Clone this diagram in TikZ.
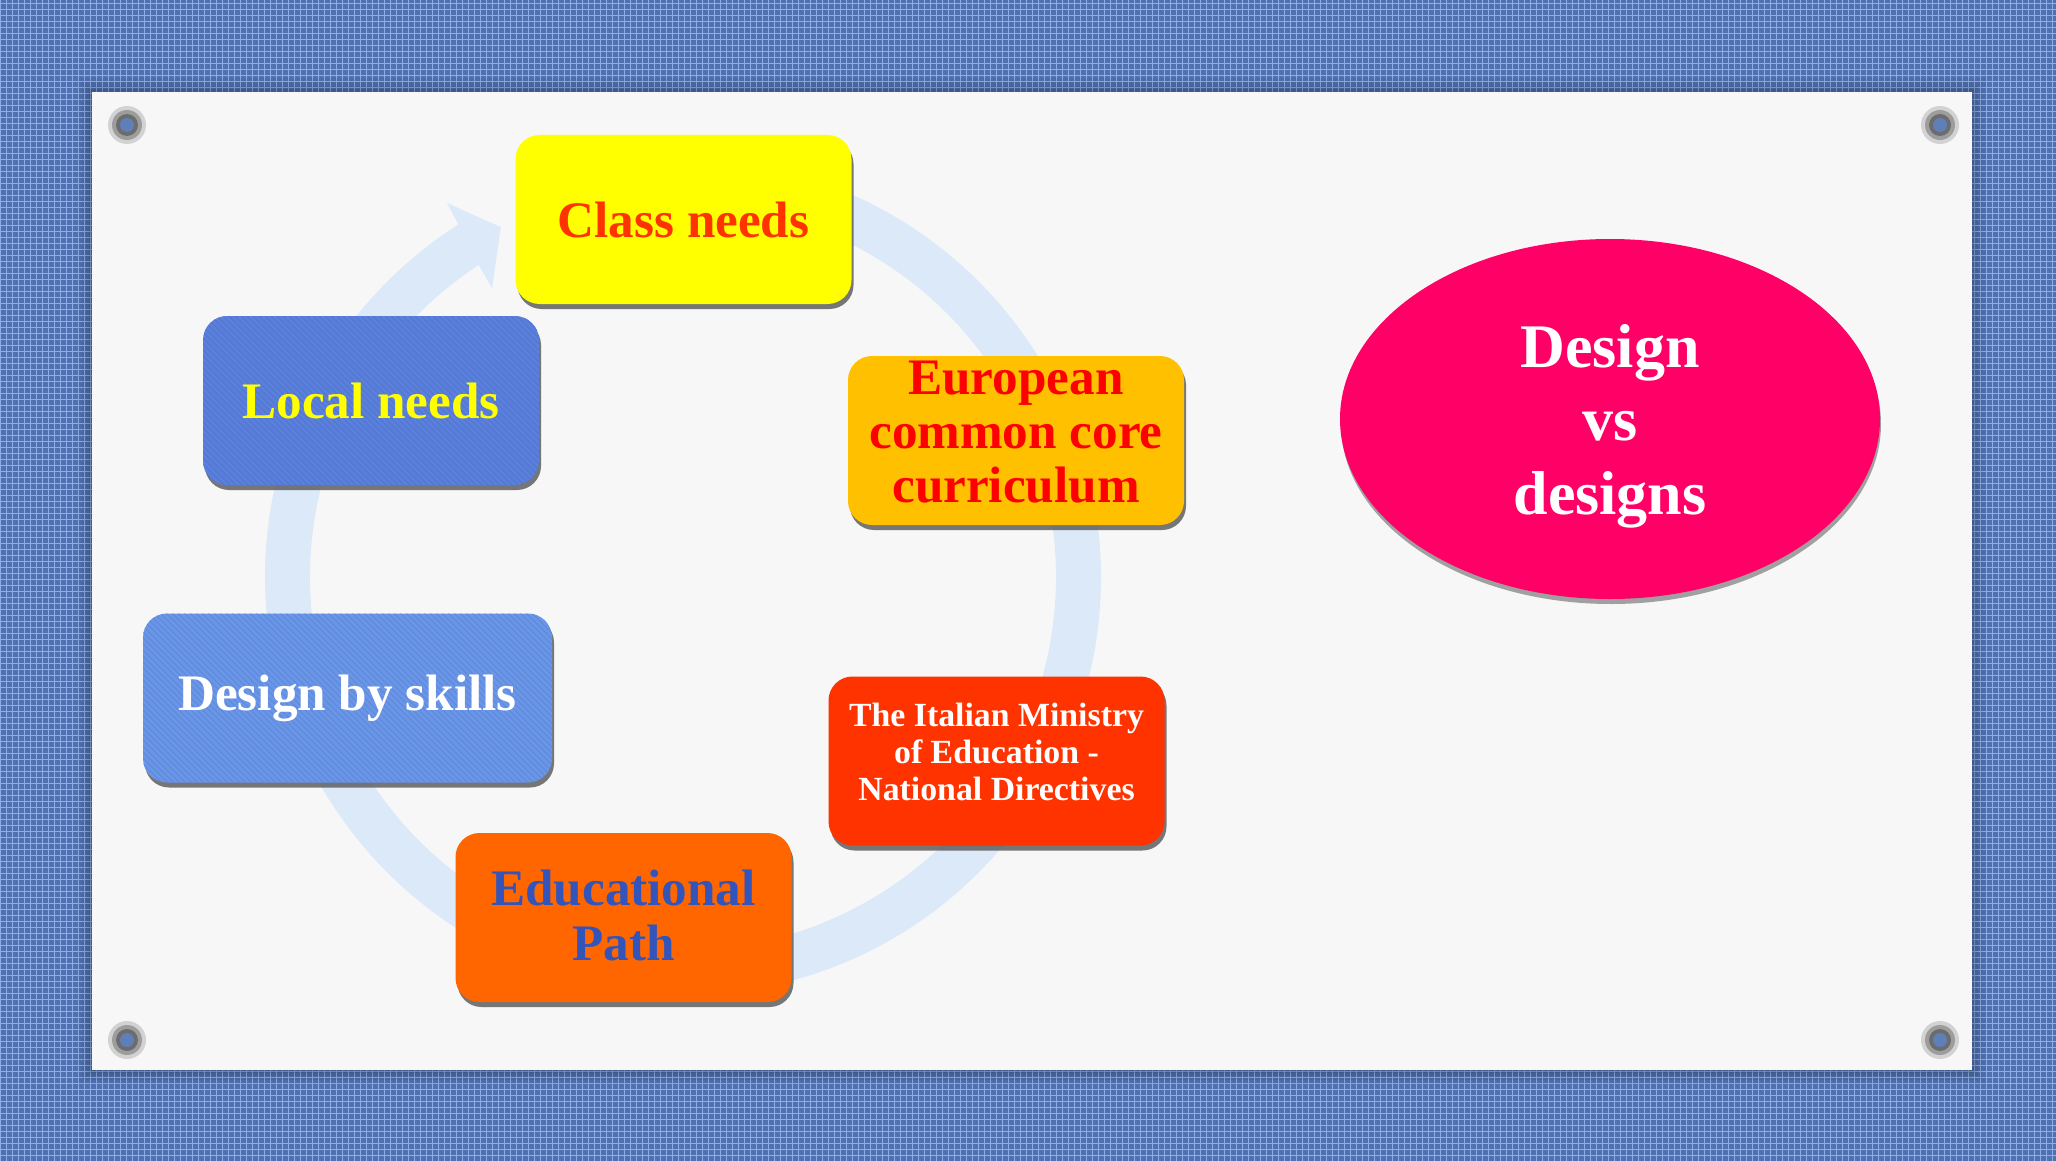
\documentclass[tikz,border=0pt]{standalone}
\usepackage{fontspec}
\setmainfont{Liberation Serif}
\usetikzlibrary{shadows,shapes.geometric,patterns}
\definecolor{fabric}{HTML}{5070B0}
\definecolor{fabriclight}{HTML}{8DAEE6}
\definecolor{panelc}{HTML}{F7F7F7}
\definecolor{bandc}{HTML}{DCE9F8}
\definecolor{yellowc}{HTML}{FFFF00}
\definecolor{classtxt}{HTML}{FF3300}
\definecolor{euroc}{HTML}{FFC000}
\definecolor{redtxt}{HTML}{FF0000}
\definecolor{italc}{HTML}{FF3300}
\definecolor{educ}{HTML}{FF6600}
\definecolor{edutxt}{HTML}{3355BB}
\definecolor{skillc}{HTML}{6A96E8}
\definecolor{skillstripe}{HTML}{5E88DA}
\definecolor{localc}{HTML}{5B80DC}
\definecolor{localstripe}{HTML}{5274CE}
\definecolor{pinkc}{HTML}{FF0066}
\definecolor{pinc}{HTML}{5F7FB8}
\tikzset{
  cbox/.style={rounded corners=12pt, minimum width=168pt, minimum height=84.5pt,
    inner sep=0pt, align=center,
    drop shadow={shadow xshift=1pt, shadow yshift=-2.5pt, opacity=0.75, fill=black!70}},
  bigtxt/.style={font=\fontsize{25.6}{27.2}\selectfont\bfseries, align=center},
  smalltxt/.style={font=\fontsize{16.9}{18.4}\selectfont\bfseries, align=center},
  ovaltxt/.style={font=\fontsize{31}{36.7}\selectfont\bfseries, align=center},
}
\begin{document}
\begin{tikzpicture}[x=0.5pt,y=-0.5pt]
\useasboundingbox (0,0) rectangle (2056,1161);
% fabric background
\fill[fabric] (0,0) rectangle (2056,1161);
\fill[pattern=grid, pattern color=fabriclight] (0,0) rectangle (2056,1161);
% panel with soft edge
\foreach \d/\o in {14/0.04,10/0.05,6/0.06,3/0.07}
  \fill[black,opacity=\o] ({92-\d},{92-\d}) rectangle ({1972+\d},{1070+\d});
\fill[panelc] (92,92) rectangle (1972,1070);
% pins
\foreach \px/\py in {127/125,1940/125,127/1040,1940/1040}{
  \fill[black,opacity=0.15] (\px,\py) circle[radius=19];
  \fill[black,opacity=0.25] (\px,\py) circle[radius=15];
  \fill[black!70,opacity=0.6] (\px,\py) circle[radius=11];
  \fill[pinc] (\px,\py) circle[radius=7];
}
% circular arrow band
\begin{scope}[shift={(683,577)}, y=0.5pt]
  \fill[bandc] (95:418) arc[start angle=95, end angle=-237.5, radius=418]
    -- (-237.75:442) -- (-242.5:394.5) -- (-236.5:346) -- (-236.8:373)
    arc[start angle=-236.8, end angle=95, radius=373] -- cycle;
\end{scope}
% boxes
\node[cbox, fill=yellowc] (class) at (683.5,219.5) {};
\node[bigtxt, text=classtxt] (classtxt) at (class.center) {Class needs};
\node[cbox, fill=euroc] (euro) at (1016,440.5) {};
\node[bigtxt, text=redtxt] (eurotxt) at (1016,432) {European\\common core\\curriculum};
\node[cbox, fill=italc] (ital) at (996.5,761) {};
\node[smalltxt, text=white] (italtxt) at (996.5,752) {The Italian Ministry\\of Education -\\National Directives};
\node[cbox, fill=educ] (edu) at (623.5,917.5) {};
\node[bigtxt, text=edutxt] (edutxt) at (623.5,915.5) {Educational\\Path};
\node[cbox, minimum width=204.5pt, fill=skillc,
  postaction={pattern=north west lines, pattern color=skillstripe}] (skills) at (347.5,698) {};
\node[bigtxt, text=white] (skillstxt) at (skills.center) {Design by skills};
\node[cbox, fill=localc,
  postaction={pattern=north west lines, pattern color=localstripe}] (local) at (371,400.5) {};
\node[bigtxt, text=yellowc] (localtxt) at (local.center) {Local needs};
% oval
\node[ellipse, minimum width=270pt, minimum height=180pt, inner sep=0pt, fill=pinkc,
  drop shadow={shadow xshift=0.5pt, shadow yshift=-2.5pt, opacity=0.6, fill=black!60}] (oval) at (1610,419) {};
\node[ovaltxt, text=white] (ovaltxt) at (1610,426) {Design\\vs\\designs};
\end{tikzpicture}
\end{document}
